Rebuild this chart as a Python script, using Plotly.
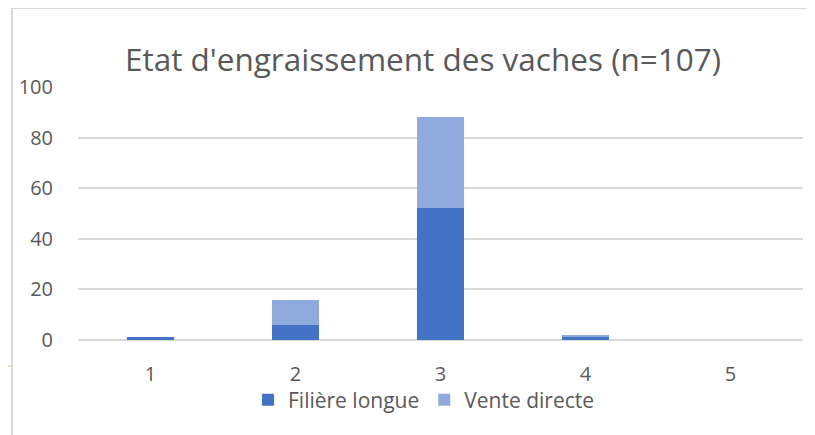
import plotly.graph_objects as go

categories = ["1", "2", "3", "4", "5"]
filiere_longue = [1, 6, 52, 1, 0]
vente_directe = [0, 10, 36, 1, 0]
title_text = "Etat d'engraissement des vaches (n=107)"
ytick_vals = [0, 20, 40, 60, 80, 100]

OFF = 8  # page body offset
W, H = 815 - OFF, 435 - OFF
# plot area in screen pixels: x 78..803, y 87..340
L = 78 - OFF
R = W - (803 - OFF)
T = 87 - OFF
B = H - (340 - OFF)
pw = W - L - R
ph = H - T - B

def px_x(p):
    return (p - OFF - L) / pw

def px_y(p):
    return (H - B - (p - OFF)) / ph

fig = go.Figure()
fig.add_trace(go.Bar(x=categories, y=filiere_longue, name="Filière longue",
                     marker=dict(color="#4472C4", line=dict(width=0)), width=0.32))
fig.add_trace(go.Bar(x=categories, y=vente_directe, name="Vente directe",
                     marker=dict(color="#8FAADC", line=dict(width=0)), width=0.32))

grey = "#595959"
FONT = "Open Sans, Noto Sans, sans-serif"
fig.update_layout(
    barmode="stack",
    width=W, height=H,
    margin=dict(l=L, r=R, t=T, b=B),
    paper_bgcolor="white", plot_bgcolor="white",
    font=dict(family=FONT, color=grey),
    title=dict(text=title_text, x=(423 - OFF) / W, xanchor="center", y=1 - (60 - OFF) / H, yanchor="middle",
               font=dict(size=31.5, color=grey, family=FONT)),
    xaxis=dict(type="category", showgrid=False, zeroline=False, showline=False,
               tickfont=dict(size=20, color=grey), ticks="", ticklabelstandoff=20,
               range=[-0.5, 4.5]),
    yaxis=dict(range=[0, 100], tickvals=ytick_vals, showgrid=True, gridcolor="#D9D9D9",
               gridwidth=1.5, zeroline=True, zerolinecolor="#D9D9D9", zerolinewidth=1.5,
               showline=False, ticks="", tickfont=dict(size=20, color=grey),
               ticklabelstandoff=24),
    legend=dict(orientation="h", x=px_x(424), xanchor="center", y=px_y(400), yanchor="middle",
                font=dict(size=21, color=grey), traceorder="normal", itemwidth=30,
                bgcolor="rgba(0,0,0,0)"),
    showlegend=True,
    shapes=[
        dict(type="line", xref="paper", yref="paper", x0=px_x(12), x1=px_x(820), y0=px_y(8), y1=px_y(8),
             line=dict(color="#D9D9D9", width=2)),
        dict(type="line", xref="paper", yref="paper", x0=px_x(12), x1=px_x(12), y0=px_y(8), y1=px_y(440),
             line=dict(color="#D9D9D9", width=2)),
        dict(type="line", xref="paper", yref="paper", x0=px_x(7), x1=px_x(11), y0=px_y(366), y1=px_y(366),
             line=dict(color="#F8CBAD", width=1.5)),
    ],
)

fig.write_html("out.html")
